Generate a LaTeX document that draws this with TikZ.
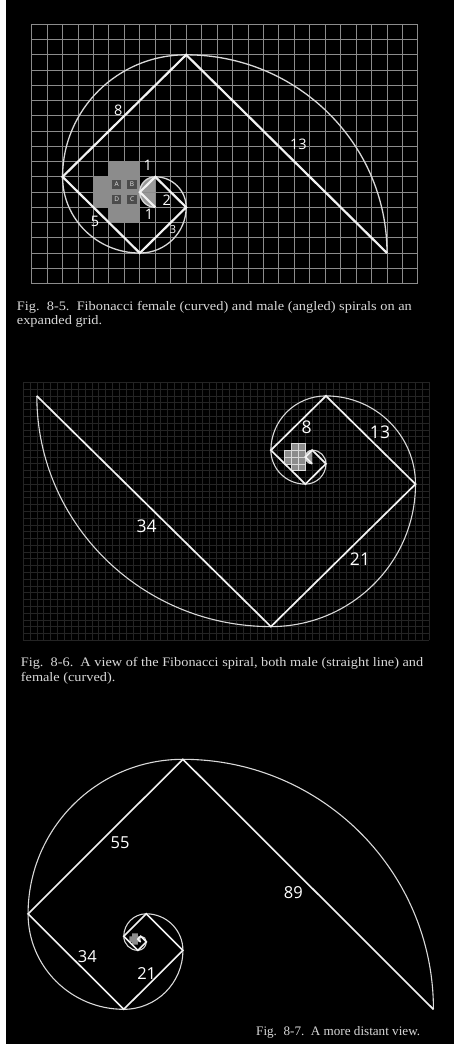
\documentclass[tikz,border=0pt]{standalone}
\usepackage{graphicx}
\usepackage{fontspec}
\setmainfont{Liberation Serif}
\newfontfamily\numfont{Open Sans}
\tikzset{
  male1/.style={draw=white!95!black, line width=2.2pt, line join=miter},
  female1/.style={draw=white!85!black, line width=1.3pt},
  male2/.style={draw=white!95!black, line width=1.7pt, line join=miter},
  female2/.style={draw=white!85!black, line width=1.1pt},
  male3/.style={draw=white!95!black, line width=1.6pt, line join=miter},
  female3/.style={draw=white!85!black, line width=1.1pt},
  grid1/.style={draw=white!55!black, line width=0.9pt},
  grid2/.style={draw=white!14!black, line width=0.6pt},
  cellgray/.style={fill=white!55!black},
  celldark/.style={fill=white!30!black},
  halfgray/.style={fill=white!60!black},
  celllines/.style={draw=white!85!black, line width=0.4pt},
  letter/.style={font=\numfont\fontsize{6.5}{7}\selectfont, text=white!90!black, inner sep=0pt},
  labA/.style={font=\numfont\fontsize{14.5}{15}\selectfont, text=white, inner sep=0pt},
  labB/.style={font=\numfont\fontsize{17.5}{18}\selectfont, text=white, inner sep=0pt},
  labC/.style={font=\numfont\fontsize{16.5}{17}\selectfont, text=white, inner sep=0pt},
  captext/.style={font=\fontsize{13}{14}\selectfont, text=white!85!black, inner sep=0pt, anchor=base west},
}
\begin{document}
\begin{tikzpicture}[x=1pt,y=-1pt]
\fill[black] (0,0) rectangle (454,1044);
\useasboundingbox (0,0) rectangle (454,1044);
\fill[white] (0,0) rectangle (6,1044);

% ---------------- Fig. 8-5 ----------------
\begin{scope}[shift={(31.67pt,-24.3pt)}, x=15.45pt, y=-15.25pt]
  \fill[cellgray] (5,9) rectangle (7,10) (4,10) rectangle (5,12) (5,12) rectangle (7,13) (5,10) rectangle (7,12);
  \fill[halfgray] (8,10) arc[start angle=-90, end angle=-270, radius=1] -- cycle;
  \foreach \i in {0,...,25} \draw[grid1] (\i,0) -- (\i,17);
  \foreach \j in {0,...,17} \draw[grid1] (0,\j) -- (25,\j);
  \foreach \cx/\cy/\l in {5/10/A,6/10/B,5/11/D,6/11/C} {
    \fill[celldark] (\cx+0.2,\cy+0.2) rectangle (\cx+0.8,\cy+0.8);
    \node[letter] (let\l) at (\cx+0.5,\cy+0.5) {\l};
  }
  \coordinate (ae) at (23,15);
  \coordinate (at) at (10,2);
  \coordinate (al) at (2,10);
  \coordinate (ab) at (7,15);
  \coordinate (ar) at (10,12);
  \coordinate (at2) at (8,10);
  \coordinate (al2) at (7,11);
  \coordinate (ab2) at (8,12);
  \draw[female1] (ae) arc[start angle=0, end angle=-90, radius=13]
    arc[start angle=-90, end angle=-180, radius=8]
    arc[start angle=-180, end angle=-270, radius=5]
    arc[start angle=-270, end angle=-360, radius=3]
    arc[start angle=0, end angle=-90, radius=2]
    arc[start angle=-90, end angle=-180, radius=1]
    arc[start angle=-180, end angle=-270, radius=1];
  \draw[male1] (ae) -- (at) -- (al) -- (ab) -- (ar) -- (at2) -- (al2) -- (ab2);
\end{scope}
\node[labA] (n8a) at (118.3,110) {8};
\node[labA] (n13a) at (298.3,144) {13};
\node[labA] (n5a) at (95,221.7) {5};
\node[labA, font=\numfont\fontsize{11}{12}\selectfont] (n3a) at (173,230) {3};
\node[labA] (n2a) at (166.7,200) {2};
\node[labA] (n1a) at (147.7,165) {1};
\node[labA] (n1b) at (149,214) {1};
\node[captext] (c1a) at (16.7,310) {\scalebox{1.105}[1]{Fig.\ \ 8-5.\ \ Fibonacci female (curved) and male (angled) spirals on an}};
\node[captext] (c1b) at (16.7,324) {\scalebox{1.105}[1]{expanded grid.}};

% ---------------- Fig. 8-6 ----------------
\begin{scope}[shift={(270.9pt,-626.6pt)}, x=6.885pt, y=-6.785pt]
  \foreach \i in {-36,...,23} \draw[grid2] (\i,-36) -- (\i,2);
  \foreach \j in {-36,...,2} \draw[grid2] (-36,\j) -- (23,\j);
  \fill[cellgray] (3,-27) rectangle (5,-26) (2,-26) rectangle (3,-24) (3,-24) rectangle (5,-23) (3,-26) rectangle (5,-24);
  \foreach \cx/\cy in {3/-27,4/-27,2/-26,2/-25,3/-26,4/-26,3/-25,4/-25,3/-24,4/-24}
    \draw[celllines] (\cx,\cy) rectangle ++(1,1);
  \fill[halfgray] (6,-26) arc[start angle=-90, end angle=-270, radius=1] -- cycle;
  \coordinate (be) at (-34,-34);
  \coordinate (bb) at (0,0);
  \coordinate (br) at (21,-21);
  \coordinate (bt) at (8,-34);
  \coordinate (bl) at (0,-26);
  \coordinate (bb2) at (5,-21);
  \coordinate (br2) at (8,-24);
  \coordinate (bt2) at (6,-26);
  \coordinate (bl2) at (5,-25);
  \coordinate (bb3) at (6,-24);
  \draw[female2] (be) arc[start angle=180, end angle=90, radius=34]
    arc[start angle=90, end angle=0, radius=21]
    arc[start angle=0, end angle=-90, radius=13]
    arc[start angle=-90, end angle=-180, radius=8]
    arc[start angle=-180, end angle=-270, radius=5]
    arc[start angle=-270, end angle=-360, radius=3]
    arc[start angle=0, end angle=-90, radius=2]
    arc[start angle=-90, end angle=-180, radius=1]
    arc[start angle=-180, end angle=-270, radius=1];
  \draw[male2] (be) -- (bb) -- (br) -- (bt) -- (bl) -- (bb2) -- (br2) -- (bt2) -- (bl2) -- (bb3);
\end{scope}
\node[labB] (n8b) at (306.7,427.3) {8};
\node[labB] (n13b) at (380,432.7) {13};
\node[labB] (n34b) at (146.7,526.7) {34};
\node[labB] (n21b) at (360,559.3) {21};
\node[captext] (c2a) at (20.7,666.5) {\scalebox{1.1}[1]{Fig.\ \ 8-6.\ \ A view of the Fibonacci spiral, both male (straight line) and}};
\node[captext] (c2b) at (20.7,681.5) {\scalebox{1.1}[1]{female (curved).}};

% ---------------- Fig. 8-7 ----------------
\begin{scope}[shift={(182.9pt,-759.3pt)}, x=2.815pt, y=-2.809pt]
  \fill[cellgray] (-18,62) rectangle (-16,66) (-19,63) rectangle (-18,65);
  \fill[halfgray] (-15,63) arc[start angle=-90, end angle=-270, radius=1] -- cycle;
  \coordinate (ce) at (89,89);
  \coordinate (ct) at (0,0);
  \coordinate (cl) at (-55,55);
  \coordinate (cb) at (-21,89);
  \coordinate (cr) at (0,68);
  \coordinate (ct2) at (-13,55);
  \coordinate (cl2) at (-21,63);
  \coordinate (cb2) at (-16,68);
  \coordinate (cr2) at (-13,65);
  \coordinate (ct3) at (-15,63);
  \coordinate (cl3) at (-16,64);
  \coordinate (cb3) at (-15,65);
  \draw[female3] (ce) arc[start angle=0, end angle=-90, radius=89]
    arc[start angle=-90, end angle=-180, radius=55]
    arc[start angle=-180, end angle=-270, radius=34]
    arc[start angle=-270, end angle=-360, radius=21]
    arc[start angle=0, end angle=-90, radius=13]
    arc[start angle=-90, end angle=-180, radius=8]
    arc[start angle=-180, end angle=-270, radius=5]
    arc[start angle=-270, end angle=-360, radius=3]
    arc[start angle=0, end angle=-90, radius=2]
    arc[start angle=-90, end angle=-180, radius=1]
    arc[start angle=-180, end angle=-270, radius=1];
  \draw[male3] (ce) -- (ct) -- (cl) -- (cb) -- (cr) -- (ct2) -- (cl2) -- (cb2) -- (cr2) -- (ct3) -- (cl3) -- (cb3);
\end{scope}
\node[labC] (n55c) at (120,842.7) {55};
\node[labC] (n89c) at (293.3,892.3) {89};
\node[labC] (n34c) at (87.3,956.7) {34};
\node[labC] (n21c) at (146.7,973.3) {21};
\node[captext] (c3) at (256,1035) {\scalebox{1.01}[1]{Fig.\ \ 8-7.\ \ A more distant view.}};
\end{tikzpicture}
\end{document}
